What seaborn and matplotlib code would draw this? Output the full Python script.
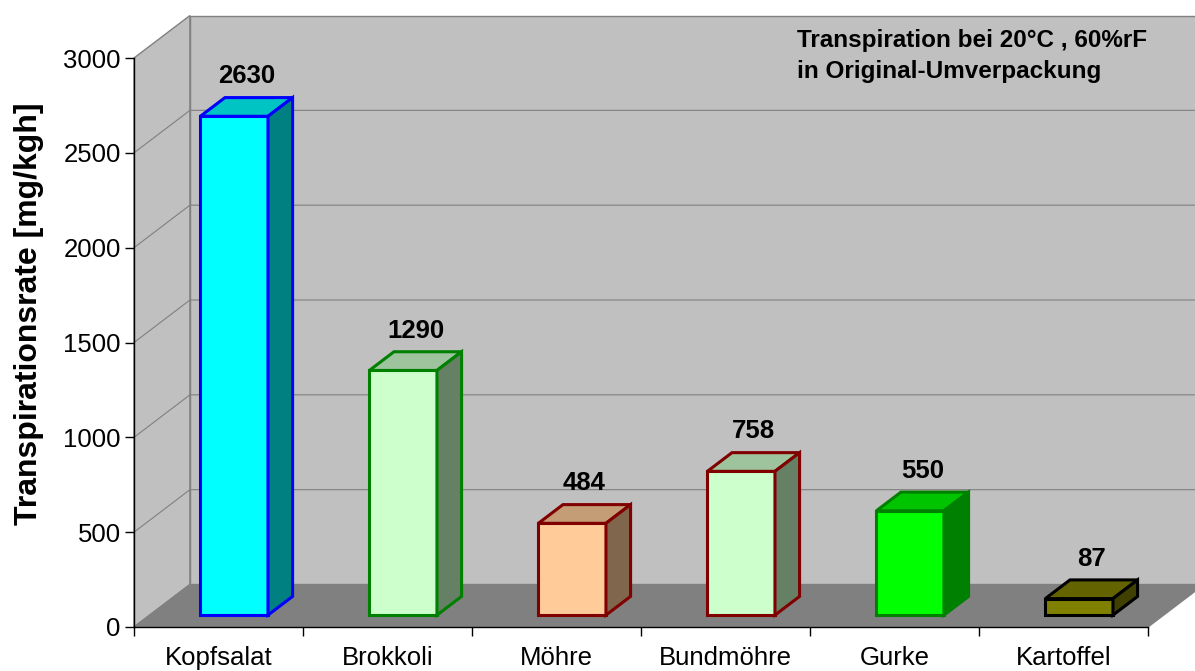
import matplotlib
matplotlib.use("Agg")
import matplotlib.pyplot as plt
import numpy as np
import seaborn as sns
from matplotlib.patches import Polygon, Rectangle
from matplotlib.colors import to_rgb

# ---- Daten aus dem Diagramm ----
categories = ["Kopfsalat", "Brokkoli", "Möhre", "Bundmöhre", "Gurke", "Kartoffel"]
values = [2630, 1290, 484, 758, 550, 87]
face_colors = ["#00FFFF", "#CCFFCC", "#FFCC99", "#CCFFCC", "#00FF00", "#808000"]
edge_colors = ["#0000FF", "#008000", "#800000", "#800000", "#008000", "#000000"]
y_ticks = [0, 500, 1000, 1500, 2000, 2500, 3000]
y_label = "Transpirationsrate [mg/kgh]"
note = "Transpiration bei 20°C , 60%rF\nin Original-Umverpackung"

# Tiefe der 3D-Box in Dateneinheiten (x: Kategorien, y: Werte)
DX, DY = 0.331, 224
D0, D1 = 0.28, 0.72          # Vorder-/Rückseite der Säulen in der Tiefe
WALL = "#C0C0C0"
FLOOR = "#808080"
FS = 18.5

sns.set_style("white")
plt.rcParams["font.family"] = ["Liberation Sans", "DejaVu Sans"]
plt.rcParams.update({"text.color": "black", "axes.labelcolor": "black",
                     "xtick.color": "black", "ytick.color": "black"})


def shade(c, f):
    r, g, b = to_rgb(c)
    return (r * f, g * f, b * f)


fig = plt.figure(figsize=(11.95, 6.71), dpi=100)
ax = fig.add_axes([134 / 1195, 44 / 671, 1014 / 1195, 569 / 671])

ymax = y_ticks[-1]
n = len(categories)
x0, x1 = -0.5, n - 0.5

# Säulen (Vorderseite) zuerst, damit ax.containers nur die Säulen enthält
sns.barplot(x=categories, y=values, hue=categories, palette=face_colors,
            saturation=1, width=0.4, legend=False, ax=ax)
bars = [b for c in ax.containers for b in c]

# Wände und Boden
ax.add_patch(Polygon([(x0, 0), (x0 + DX, DY), (x0 + DX, ymax + DY), (x0, ymax)],
                     fc=WALL, ec="#808080", lw=1, clip_on=False, zorder=0))
ax.add_patch(Rectangle((x0 + DX, DY), n, ymax, fc=WALL, ec="#808080", lw=1,
                       clip_on=False, zorder=0))
ax.add_patch(Polygon([(x0, 0), (x1, 0), (x1 + DX, DY), (x0 + DX, DY)],
                     fc=FLOOR, ec="#808080", lw=1, clip_on=False, zorder=0.2))
for v in y_ticks[1:-1]:
    ax.plot([x0, x0 + DX, x1 + DX], [v, v + DY, v + DY], color="#808080",
            lw=0.8, clip_on=False, zorder=0.5)

ddx, ddy = DX * (D1 - D0), DY * (D1 - D0)
for p, v, fc, ec in zip(bars, values, face_colors, edge_colors):
    p.set_x(p.get_x() + DX * D0)
    p.set_y(DY * D0)
    p.set_edgecolor(ec)
    p.set_linewidth(2.2)
    p.set_joinstyle("miter")
    p.set_zorder(3)
    bx0, bx1 = p.get_x(), p.get_x() + p.get_width()
    by0, by1 = p.get_y(), p.get_y() + p.get_height()
    top = [(bx0, by1), (bx1, by1), (bx1 + ddx, by1 + ddy), (bx0 + ddx, by1 + ddy)]
    side = [(bx1, by0), (bx1 + ddx, by0 + ddy), (bx1 + ddx, by1 + ddy), (bx1, by1)]
    ax.add_patch(Polygon(top, fc=shade(fc, 0.77), ec=ec, lw=2.2,
                         joinstyle="miter", clip_on=False, zorder=3))
    ax.add_patch(Polygon(side, fc=shade(fc, 0.5), ec=ec, lw=2.2,
                         joinstyle="miter", clip_on=False, zorder=3))

# Werte über den Säulen
for i, v in enumerate(values):
    ax.annotate(str(v), xy=(i + DX * 0.5, v + DY * 0.5), xytext=(0, 22),
                textcoords="offset points", ha="center", va="center",
                fontsize=FS, fontweight="bold", annotation_clip=False)

# Achsen
ax.set_xlim(x0, x1)
ax.set_ylim(0, ymax)
ax.set_yticks(y_ticks)
ax.set_xticks(range(n))
ax.set_xticklabels(categories)
ax.set_xticks(np.arange(x0, x1 + 0.01, 1), minor=True)
ax.tick_params(axis="y", length=6.5, width=1, pad=3, labelsize=FS, colors="black",
               left=True)
ax.tick_params(axis="x", which="major", length=0, pad=14, labelsize=FS)
ax.tick_params(axis="x", which="minor", length=6.5, width=1, color="black",
               bottom=True)
for s in ["top", "right"]:
    ax.spines[s].set_visible(False)
for s in ["left", "bottom"]:
    ax.spines[s].set_color("black")
    ax.spines[s].set_linewidth(1)
    ax.spines[s].set_zorder(2.5)

ax.set_xlabel("")
ax.set_ylabel(y_label, fontsize=23, fontweight="bold", va="center")
ax.yaxis.set_label_coords(-0.1035, 0.55)

fig.text(797 / 1195, 1 - 29 / 671, note, ha="left", va="top", fontsize=17.5,
         fontweight="bold", linespacing=1.45)

fig.savefig("out.png", dpi=100)
